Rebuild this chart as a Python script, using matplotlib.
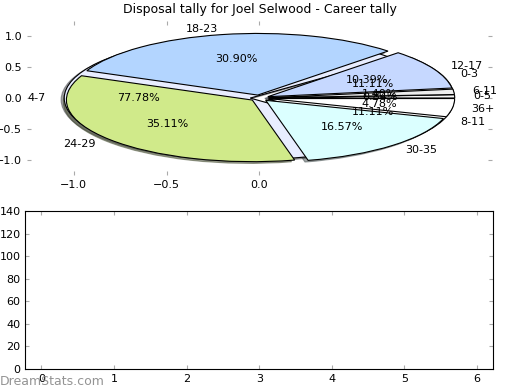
import matplotlib
matplotlib.use("Agg")
import matplotlib.pyplot as plt

# --------------------------------------------------------------------
# DATA
# --------------------------------------------------------------------
title = "Disposal tally for Joel Selwood - Career tally"
disp_labels = ['0-5', '6-11', '12-17', '18-23', '24-29', '30-35', '36+']
disp_counts = [3, 5, 37, 110, 125, 59, 17]
disp_colors = ['#f4f4f4', '#eeeeee', '#c6d8ff', '#b3d5ff', '#d0ea8a', '#dbffff', '#ffffff']

goal_labels = ['0-3', '4-7', '8-11']
goal_counts = [1, 7, 1]
goal_colors = ['#ffffff', '#e8edff', '#ffffff']

bar_xticks = [0, 1, 2, 3, 4, 5, 6]
bar_yticks = [0, 20, 40, 60, 80, 100, 120, 140]

fs = 8

# --------------------------------------------------------------------
# Create the figure
# --------------------------------------------------------------------
fig = plt.figure(figsize=(5.2, 3.9), dpi=100)
ax1 = fig.add_axes([0.052, 0.551, 0.894, 0.395])
ax2 = fig.add_axes([0.049, 0.054, 0.899, 0.405])

# goal pie underneath, disposal pie on top
wp = dict(edgecolor='black', linewidth=0.8)
shd = dict(ox=-0.012, oy=-0.02)
ax1.pie(goal_counts, labels=goal_labels, colors=goal_colors, autopct='%1.2f%%',
        explode=[0.05]*len(goal_counts), shadow=shd, wedgeprops=wp,
        textprops=dict(fontsize=fs))
ax1.pie(disp_counts, labels=disp_labels, colors=disp_colors, autopct='%1.2f%%',
        explode=[0.05]*len(disp_counts), shadow=shd, wedgeprops=wp,
        textprops=dict(fontsize=fs))

ax1.set_aspect('auto')
ax1.set_frame_on(False)
ax1.set_xlim(-1.25, 1.25)
ax1.set_ylim(-1.25, 1.25)
ax1.set_xticks([-1.0, -0.5, 0.0])
ax1.set_yticks([-1.0, -0.5, 0.0, 0.5, 1.0])
ax1.set_xticklabels(['\u22121.0', '\u22120.5', '0.0'])
ax1.set_yticklabels(['\u22121.0', '\u22120.5', '0.0', '0.5', '1.0'])
ax1.tick_params(direction='in', length=3, color='#aaaaaa', labelsize=fs,
                top=True, right=True)
ax1.set_title(title, fontsize=9, pad=6)

# --------------------------------------------------------------------
# Empty bar axes
# --------------------------------------------------------------------
ax2.set_xlim(-0.22, 6.22)
ax2.set_ylim(0, 140)
ax2.set_xticks(bar_xticks)
ax2.set_yticks(bar_yticks)
ax2.tick_params(direction='in', length=3, color='#aaaaaa', labelsize=fs,
                top=True, right=True)

fig.text(0.0, 0.012, "DreamStats.com", fontsize=9,
         color='#888888', alpha=0.9)

plt.savefig("out.png", dpi=100)
plt.close()
